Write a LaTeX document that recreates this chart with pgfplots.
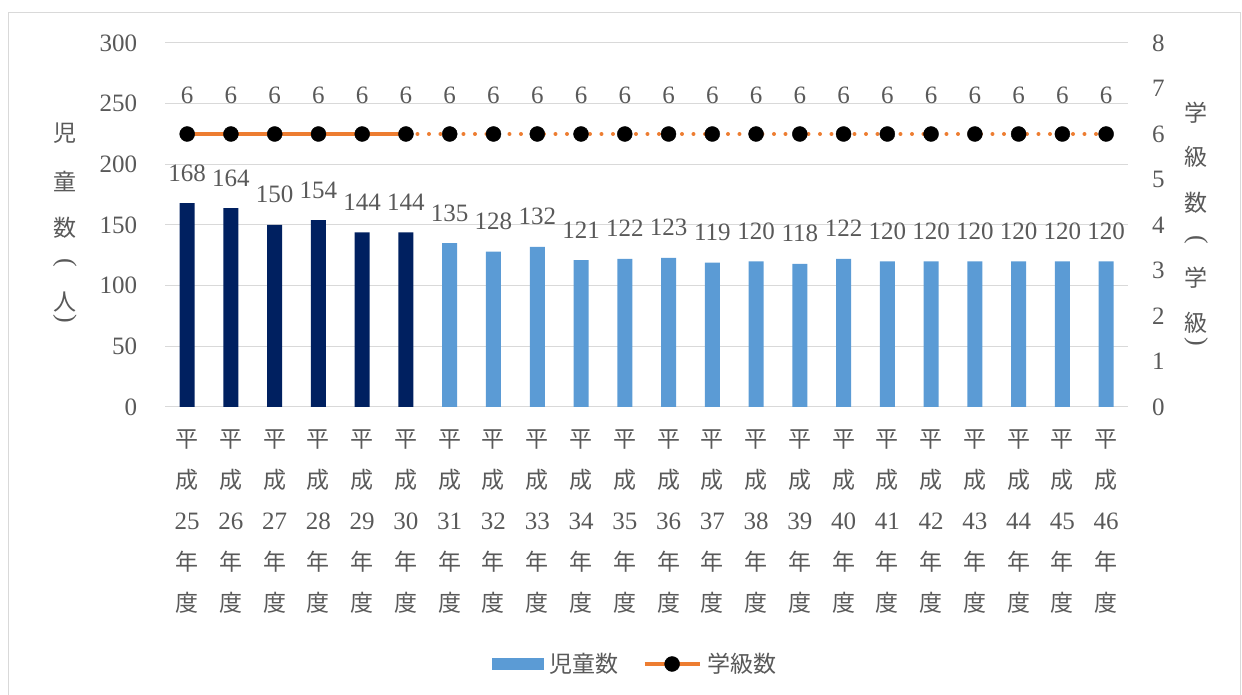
\documentclass[border=0pt]{standalone}
\usepackage{fontspec}
\setmainfont{Liberation Serif}
\newfontfamily\jp{Noto Sans CJK JP}
\usepackage{pgfplots}
\pgfplotsset{compat=1.18}
\pgfplotsset{/pgf/number format/assume math mode=true}
\definecolor{navy}{HTML}{002060}
\definecolor{lblue}{HTML}{5B9BD5}
\definecolor{xorange}{HTML}{ED7D31}
\definecolor{txt}{HTML}{595959}
\definecolor{gridc}{HTML}{D9D9D9}
\newcommand{\yl}[1]{{\jp 平}\\{\jp 成}\\{\fontsize{25}{41}\selectfont #1}\\{\jp 年}\\{\jp 度}}
\begin{document}
\begin{tikzpicture}[x=1pt,y=1pt]
\useasboundingbox (0,0) rectangle (1242,695);
\draw[gridc, line width=1pt] (8.5,-5) rectangle (1240.5,682);
\begin{axis}[
  at={(165.3pt,288pt)}, anchor=south west,
  scale only axis, width=962.7pt, height=364pt,
  xmin=-0.5, xmax=21.5, ymin=0, ymax=300,
  ytick={0,50,...,300}, ytick pos=left,
  xtick={0,...,21},
  xticklabels={{\yl{25}},{\yl{26}},{\yl{27}},{\yl{28}},{\yl{29}},{\yl{30}},{\yl{31}},{\yl{32}},{\yl{33}},{\yl{34}},{\yl{35}},{\yl{36}},{\yl{37}},{\yl{38}},{\yl{39}},{\yl{40}},{\yl{41}},{\yl{42}},{\yl{43}},{\yl{44}},{\yl{45}},{\yl{46}}},
  xticklabel style={align=center, inner sep=0pt, yshift=-23pt, text=txt, font=\fontsize{23}{41}\selectfont},
  yticklabel style={inner sep=0pt, xshift=-28pt, text=txt, font=\fontsize{25}{25}\selectfont},
  axis line style={draw=none}, major tick length=0pt,
  ymajorgrids, grid style={gridc, line width=1pt},
  clip=false,
  nodes near coords style={anchor=base, inner sep=0pt, yshift=22pt, text=txt, font=\fontsize{25}{25}\selectfont},
  legend style={at={(0.488,-0.706)}, anchor=center, legend columns=2, draw=none, fill=none,
    text=txt, font=\fontsize{23}{23}\selectfont\jp,
    /tikz/every even column/.append style={column sep=22pt},
    /tikz/every odd column/.append style={column sep=4pt}},
]
\addplot[ybar, bar width=15pt, bar shift=0pt, fill=navy, draw=none, nodes near coords, forget plot]
  coordinates {(0,168)(1,164)(2,150)(3,154)(4,144)(5,144)};
\addplot[ybar, bar width=15pt, bar shift=0pt, fill=lblue, draw=none, nodes near coords,
  legend image code/.code={\fill[lblue] (0pt,-6pt) rectangle (52pt,6pt);}]
  coordinates {(6,135)(7,128)(8,132)(9,121)(10,122)(11,123)(12,119)(13,120)(14,118)(15,122)(16,120)(17,120)(18,120)(19,120)(20,120)(21,120)};
\addlegendentry{児童数}
\addlegendimage{legend image code/.code={\draw[xorange,line width=4pt] (0pt,0pt)--(55pt,0pt); \fill[black] (27.5pt,0pt) circle (7.5pt);}}
\addlegendentry{学級数}
\end{axis}
\begin{axis}[
  at={(165.3pt,288pt)}, anchor=south west,
  scale only axis, width=962.7pt, height=364pt,
  xmin=-0.5, xmax=21.5, ymin=0, ymax=8,
  ytick={0,...,8},
  axis x line=none, axis y line*=right,
  y axis line style={draw=none}, major tick length=0pt,
  yticklabel style={inner sep=0pt, xshift=24pt, text=txt, font=\fontsize{25}{25}\selectfont},
  clip=false,
  nodes near coords style={anchor=base, inner sep=0pt, yshift=30pt, text=txt, font=\fontsize{25}{25}\selectfont},
]
\addplot[xorange, line width=4pt, forget plot] coordinates {(0,6)(1,6)(2,6)(3,6)(4,6)(5,6)};
\addplot[xorange, line width=4pt, line cap=round, dash pattern=on 0pt off 11.5pt, forget plot]
  coordinates {(5,6)(6,6)(7,6)(8,6)(9,6)(10,6)(11,6)(12,6)(13,6)(14,6)(15,6)(16,6)(17,6)(18,6)(19,6)(20,6)(21,6)};
\addplot[only marks, mark=*, mark size=7.5pt, black, nodes near coords, forget plot]
  coordinates {(0,6)(1,6)(2,6)(3,6)(4,6)(5,6)(6,6)(7,6)(8,6)(9,6)(10,6)(11,6)(12,6)(13,6)(14,6)(15,6)(16,6)(17,6)(18,6)(19,6)(20,6)(21,6)};
\end{axis}
\begin{scope}[every node/.style={text=txt, font=\fontsize{23}{23}\selectfont\jp, inner sep=0pt}]
\node at (65,562) {児};
\node at (65,513) {童};
\node at (65,467) {数};
\node[rotate=-90, font=\fontsize{26}{26}\selectfont\rmfamily] at (65,432) {(};
\node at (65,393) {人};
\node[rotate=-90, font=\fontsize{26}{26}\selectfont\rmfamily] at (65,376) {)};
\node at (1196,582) {学};
\node at (1196,538) {級};
\node at (1196,492) {数};
\node[rotate=-90, font=\fontsize{26}{26}\selectfont\rmfamily] at (1196,455) {(};
\node at (1196,417) {学};
\node at (1196,372) {級};
\node[rotate=-90, font=\fontsize{26}{26}\selectfont\rmfamily] at (1196,353) {)};
\end{scope}
\end{tikzpicture}
\end{document}
